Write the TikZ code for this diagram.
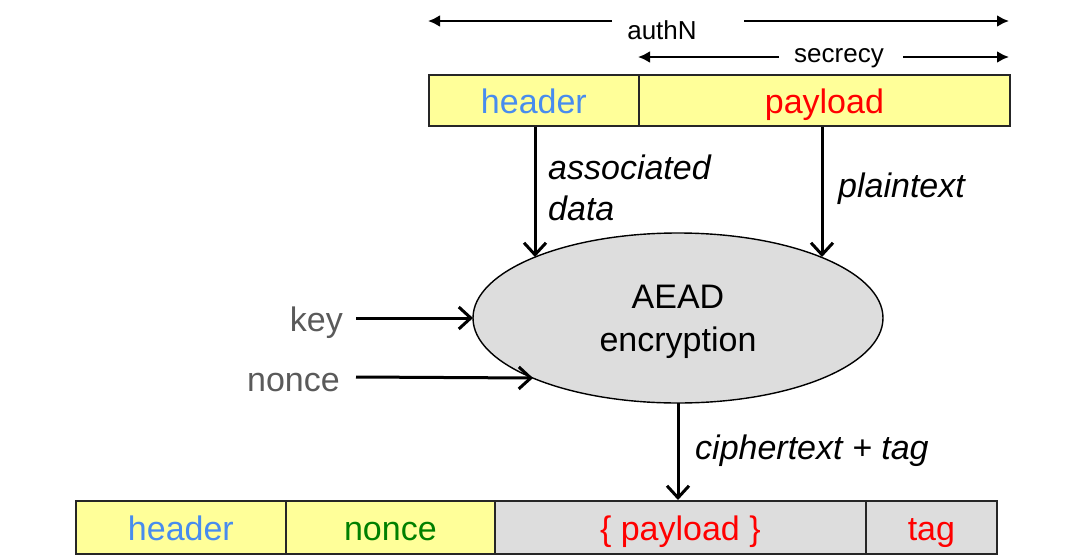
\documentclass[tikz,border=0pt]{standalone}
\usepackage{fontspec}
\setmainfont{Liberation Sans}
\usetikzlibrary{arrows.meta,shapes.geometric}
\definecolor{hdrblue}{RGB}{72,140,238}
\definecolor{boxyellow}{RGB}{255,255,153}
\definecolor{boxgray}{RGB}{221,221,221}
\definecolor{keygray}{RGB}{90,90,90}
\definecolor{ncgreen}{RGB}{0,128,0}
\begin{document}
\begin{tikzpicture}[x=1pt,y=-1pt,
  field/.style={draw=black!85,line width=1.8pt,anchor=north west,inner sep=0pt,
    font=\fontsize{34}{40}\selectfont,text height=27pt,text depth=0pt},
  topfield/.style={field,minimum height=51pt},
  botfield/.style={field,minimum height=53pt},
  lbl/.style={font=\fontsize{34}{41}\selectfont\itshape,inner sep=0pt},
  small/.style={font=\fontsize{26}{30}\selectfont,inner sep=0pt},
  side/.style={font=\fontsize{34}{40}\selectfont,text=keygray,inner sep=0pt,anchor=base east},
  tarrow/.style={line width=2.8pt,-{Latex[length=12pt,width=12pt]}},
  oarrow/.style={line width=3pt,-{Straight Barb[length=12pt,width=22pt,line width=3pt]}},
]
\useasboundingbox (0,0) rectangle (1088,560);

% top packet
\node[topfield,fill=boxyellow,minimum width=210pt,text=hdrblue] (thdr) at (428,74) {header};
\node[topfield,fill=boxyellow,minimum width=371pt,text=red] (tpay) at (638,74) {payload};

% authN / secrecy
\node[small,anchor=base] (authN) at (662,39) {authN};
\node[small,anchor=base] (secr) at (839,62) {secrecy};
\coordinate (aL) at (428,21);
\coordinate (aR) at (1009,21);
\coordinate (aLs) at (612,21);
\coordinate (aRs) at (744,21);
\draw[tarrow] (aLs) -- (aL);
\draw[tarrow] (aRs) -- (aR);
\coordinate (sL) at (638,57);
\coordinate (sR) at (1009,57);
\coordinate (sLs) at (779,57);
\coordinate (sRs) at (903,57);
\draw[tarrow] (sLs) -- (sL);
\draw[tarrow] (sRs) -- (sR);

% AEAD
\node[ellipse,draw=black,line width=1.4pt,fill=boxgray,minimum width=410pt,minimum height=170pt] (aead) at (678,318) {};
\node[align=center,font=\fontsize{34}{43}\selectfont,inner sep=0pt] (aeadtxt) at (678,322) {AEAD\\encryption};

\coordinate (adin) at (535,257);
\coordinate (ptin) at (822,257);
\coordinate (keyin) at (473,318);
\coordinate (ncin) at (533,378);
\coordinate (ctout) at (678,403);

\draw[oarrow] (thdr.south -| adin) -- (adin);
\draw[oarrow] (tpay.south -| ptin) -- (ptin);
\node[lbl,anchor=west,align=left] (adlbl) at (548,188) {associated\\data};
\node[lbl,anchor=west] (ptlbl) at (838,189) {plaintext};

\node[side] (key) at (343,331) {key};
\node[side] (nonce) at (340,391) {nonce};
\draw[oarrow] (356,318) -- (keyin);
\draw[oarrow] (356,377) -- (ncin);

% bottom packet
\node[botfield,fill=boxyellow,minimum width=210pt,text=hdrblue] (bhdr) at (75,500) {header};
\node[botfield,fill=boxyellow,minimum width=209pt,text=ncgreen] (bnc) at (285,500) {nonce};
\node[botfield,fill=boxgray,minimum width=371pt,text=red] (bpay) at (494,500) {\{ payload \}};
\node[botfield,fill=boxgray,minimum width=131pt,text=red] (btag) at (865,500) {tag};

\draw[oarrow] (ctout) -- (ctout |- bpay.north);
\node[lbl,anchor=west] (ctlbl) at (695,451) {ciphertext + tag};
\end{tikzpicture}
\end{document}
